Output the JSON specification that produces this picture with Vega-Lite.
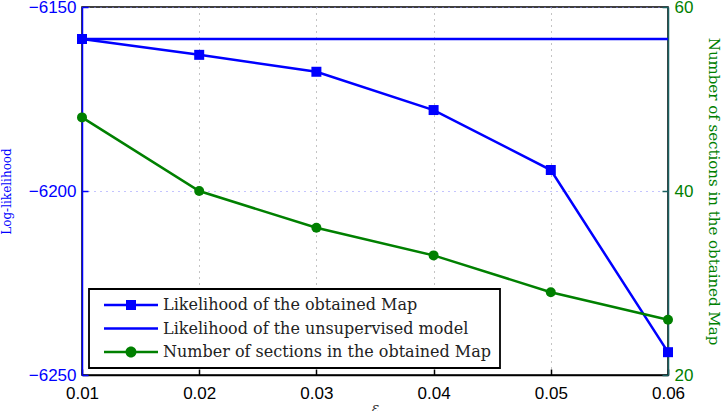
{
  "$schema": "https://vega.github.io/schema/vega-lite/v6.json",
  "autosize": {"type": "none"},
  "width": 586,
  "height": 368,
  "padding": {"left": 82, "top": 7, "right": 55, "bottom": 36},
  "background": "white",
  "config": {
    "view": {"stroke": "black", "strokeWidth": 1.5},
    "axis": {"labelFont": "Liberation Sans", "labelFontSize": 17, "titleFontWeight": "normal", "tickSize": -6, "tickWidth": 1.5, "domainWidth": 1.5, "labelFlush": false, "labelBound": false}
  },
  "datasets": {
    "main": [
      {"eps": 0.01, "loglik": -6158.7, "unsup": -6158.7, "sections": 48},
      {"eps": 0.02, "loglik": -6163.0, "unsup": -6158.7, "sections": 40},
      {"eps": 0.03, "loglik": -6167.6, "unsup": -6158.7, "sections": 36},
      {"eps": 0.04, "loglik": -6178.0, "unsup": -6158.7, "sections": 33},
      {"eps": 0.05, "loglik": -6194.3, "unsup": -6158.7, "sections": 29},
      {"eps": 0.06, "loglik": -6243.8, "unsup": -6158.7, "sections": 26}
    ]
  },
  "data": {"name": "main"},
  "encoding": {
    "x": {
      "field": "eps", "type": "quantitative",
      "scale": {"domain": [0.01, 0.06], "nice": false, "zero": false},
      "axis": {"values": [0.01, 0.02, 0.03, 0.04, 0.05, 0.06], "format": ".2f", "title": "ε", "titleFont": "DejaVu Serif", "titleFontSize": 14, "titlePadding": 0, "titleFontStyle": "italic", "titleColor": "#333",
        "domainColor": "black", "tickColor": "black", "labelColor": "black", "labelPadding": 16,
        "grid": true, "gridColor": "#888888", "gridDash": [1, 5], "gridWidth": 1}
    }
  },
  "layer": [
    {
      "layer": [
        {
          "mark": {"type": "line", "strokeWidth": 2.5},
          "encoding": {
            "y": {"field": "unsup", "type": "quantitative",
              "scale": {"domain": [-6250, -6150], "nice": false, "zero": false},
              "axis": {"orient": "left", "values": [-6250, -6200, -6150], "format": "d", "title": "Log-likelihood", "titleFont": "DejaVu Serif", "titleFontSize": 12, "titleColor": "#0000ff", "titlePadding": 15,
                "domainColor": "#0000ff", "tickColor": "#0000ff", "labelColor": "#0000ff", "labelPadding": 12,
                "grid": true, "gridColor": "#8888ff", "gridDash": [1, 5], "gridWidth": 1}},
            "color": {"datum": "Likelihood of the unsupervised model",
              "scale": {"domain": ["Likelihood of the obtained Map", "Likelihood of the unsupervised model", "Number of sections in the obtained Map"], "range": ["#0000ff", "#0000ff", "#008000"]},
              "legend": {"title": null, "orient": "bottom-left", "offset": 7, "padding": 8, "strokeColor": "black", "fillColor": "white",
                "labelFont": "DejaVu Serif", "labelFontSize": 16, "labelColor": "#222", "labelLimit": 0, "rowPadding": 7.5,
                "symbolSize": 100, "symbolOffset": 26, "labelOffset": 24,
                "encode": {
                  "legend": {"update": {"strokeWidth": {"value": 1.8}}},
                  "symbols": {"update": {
                  "shape": {"signal": "datum.value === 'Likelihood of the obtained Map' ? 'M-5.4,-0.25L-1,-0.25L-1,-1L1,-1L1,-0.25L5.4,-0.25L5.4,0.25L1,0.25L1,1L-1,1L-1,0.25L-5.4,0.25Z' : datum.value === 'Likelihood of the unsupervised model' ? 'M-5.4,-0.25L5.4,-0.25L5.4,0.25L-5.4,0.25Z' : 'M-5.4,-0.25L5.4,-0.25L5.4,0.25L-5.4,0.25Z M-1.1,0A1.1,1.1,0,1,1,1.1,0A1.1,1.1,0,1,1,-1.1,0Z'"},
                  "fill": {"signal": "datum.value === 'Number of sections in the obtained Map' ? '#008000' : '#0000ff'"},
                  "stroke": {"value": "transparent"},
                  "strokeWidth": {"value": 0},
                  "opacity": {"value": 1}
                }}}
              }}
          }
        },
        {
          "mark": {"type": "line", "strokeWidth": 2.5, "point": {"shape": "square", "size": 100, "filled": true, "color": "#0000ff", "opacity": 1}},
          "encoding": {
            "y": {"field": "loglik", "type": "quantitative"},
            "color": {"datum": "Likelihood of the obtained Map"}
          }
        }
      ]
    },
    {
      "mark": {"type": "line", "strokeWidth": 2.5, "point": {"shape": "circle", "size": 100, "filled": true, "color": "#008000", "opacity": 1}},
      "encoding": {
        "y": {"field": "sections", "type": "quantitative",
          "scale": {"domain": [20, 60], "nice": false, "zero": false},
          "axis": {"orient": "right", "values": [20, 40, 60], "title": "Number of sections in the obtained Map", "titleFont": "DejaVu Serif", "titleFontSize": 15, "titleColor": "#008000", "titlePadding": 13,
            "domainColor": "#1a6060", "tickColor": "#1a6060", "labelColor": "#008000", "labelPadding": 12, "grid": false}},
        "color": {"datum": "Number of sections in the obtained Map"}
      }
    }
  ],
  "resolve": {"scale": {"y": "independent"}}
}
